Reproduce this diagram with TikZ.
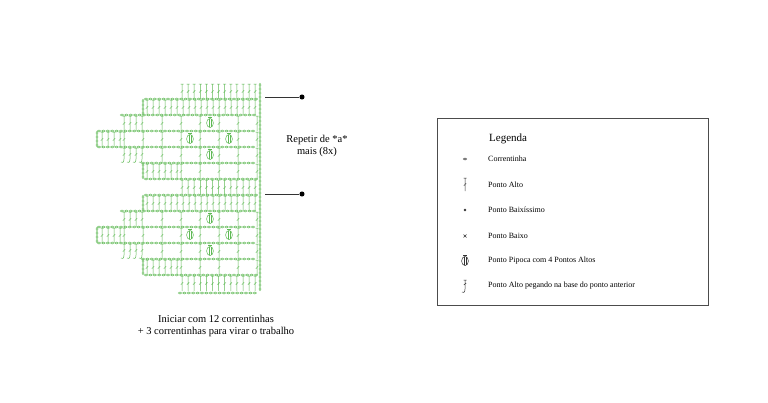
\documentclass[tikz,border=0pt]{standalone}
\usepackage{fontspec}
\setmainfont{Liberation Serif}
\begin{document}
\begin{tikzpicture}[x=1pt,y=-1pt,
  st/.style={draw={rgb,255:red,95;green,185;blue,85},line width=0.5pt},
  lg/.style={draw=black!80,line width=0.5pt},
  lbl/.style={anchor=west,font=\fontsize{8}{9}\selectfont,inner sep=0pt},
  txt/.style={font=\fontsize{10.5}{12}\selectfont,align=center,inner sep=0pt}]
\useasboundingbox (0,0) rectangle (768,402);
\newcommand\mydc[3]{\pgfmathsetmacro\qb{#2}\pgfmathsetmacro\qt{#3}\pgfmathsetmacro\qm{(\qb+\qt)/2}
 \draw[st] (#1,\qb)--(#1,\qt) (#1-1.5,\qt)--(#1+1.5,\qt) (#1-1.2,\qm+1)--(#1+1.2,\qm-1);}
\newcommand\myhk[3]{\pgfmathsetmacro\qb{#2}\pgfmathsetmacro\qt{#3}\pgfmathsetmacro\qm{(\qb+\qt)/2}\pgfmathsetmacro\qc{\qb-4}
 \draw[st] (#1,\qt)--(#1,\qc) .. controls (#1,\qb) and (#1-2,\qb) .. (#1-3,\qb-1) (#1-1.5,\qt)--(#1+1.5,\qt) (#1-1.2,\qm)--(#1+1.2,\qm-2);}
\newcommand\mych[2]{\draw[st] (#1,#2) ellipse (1.7 and 1);}
\newcommand\myvch[2]{\draw[st] (#1,#2) ellipse (1 and 1.7);}
\newcommand\chline[3]{\pgfmathsetmacro\qy{#3}\pgfmathsetmacro\qa{#1+4.4}\foreach \x in {#1,\qa,...,#2} {\mych{\x}{\qy}}}
\newcommand\vchain[3]{\pgfmathsetmacro\qs{#2}\pgfmathsetmacro\qn{#2+4}\pgfmathsetmacro\qe{#3}\foreach \y in {\qs,\qn,...,\qe} {\myvch{#1}{\y}}}
\newcommand\pop[2]{\pgfmathsetmacro\py{#2}\draw[st,fill=white] (#1,\py) ellipse (3.4 and 4.6); \draw[st] (#1-1.2,\py-4.3)--(#1-1.2,\py+4.3) (#1+1.2,\py-4.3)--(#1+1.2,\py+4.3) (#1-2,\py-5.3)--(#1+2,\py-5.3);}
\newcommand\block[1]{%
 \pgfmathsetmacro\La{99+#1}\pgfmathsetmacro\Lb{115+#1}\pgfmathsetmacro\Lc{131+#1}
 \pgfmathsetmacro\Ld{147+#1}\pgfmathsetmacro\Le{163+#1}\pgfmathsetmacro\Lf{179+#1}
 \foreach \x in {182,188.1,...,256} {\mydc{\x}{\La}{\La-15}}
 \vchain{260}{\La-14}{\Lf}
 \chline{146}{257}{\La}
 \vchain{143}{\La+2}{\Lb-2}
 \foreach \x in {147,153,...,255} {\mydc{\x}{\Lb}{\La+1}}
 \chline{122}{257}{\Lb}
 \foreach \x in {124,130,136,142} {\mydc{\x}{\Lc}{\Lb+1}}
 \foreach \x in {162,181,200,219,238,257} {\mydc{\x}{\Lc}{\Lb+1}}
 \pop{210}{\Lb+8}
 \chline{99}{257}{\Lc}
 \vchain{97}{\Lc+2}{\Ld-2}
 \foreach \x in {102,108,114,120,124,143,162,181,200,219,238,257} {\mydc{\x}{\Ld}{\Lc+1}}
 \pop{190}{\Lc+8}\pop{229}{\Lc+8}
 \chline{99}{257}{\Ld}
 \foreach \x in {124,130,136,142} {\myhk{\x}{\Le}{\Ld+1}}
 \foreach \x in {162,181,200,219,238,257} {\mydc{\x}{\Le}{\Ld+1}}
 \pop{210}{\Ld+8}
 \chline{143}{257}{\Le}
 \vchain{143}{\Le+2}{\Lf-2}
 \foreach \x in {147,153,...,177} {\mydc{\x}{\Lf}{\Le+1}}
 \foreach \x in {181,200,219,238,257} {\mydc{\x}{\Lf}{\Le+1}}
 \chline{146}{257}{\Lf}
}
\block{0}
\block{96}
\foreach \x in {182,188.1,...,256} {\mydc{\x}{291}{276}}
\vchain{260}{277}{291}
\chline{180}{257}{293}
% repeat markers
\coordinate (r1) at (265,97); \node[circle,fill=black,inner sep=1.8pt] (d1) at (302,97) {};
\coordinate (r2) at (265,194); \node[circle,fill=black,inner sep=1.8pt] (d2) at (302,194) {};
\draw[lg] (r1)--(d1); \draw[lg] (r2)--(d2);
\node[txt] (rep) at (317,146) {Repetir de *a*\\mais (8x)};
\node[txt] (ini) at (216,326) {Iniciar com 12 correntinhas\\+ 3 correntinhas para virar o trabalho};
% legend
\node[draw=black!70,line width=0.6pt,minimum width=271pt,minimum height=187pt,anchor=north west] (box) at (437,118) {};
\node[anchor=west,font=\fontsize{11}{12}\selectfont,inner sep=0pt] (leg) at (489,139) {Legenda};
\node[lbl] (t1) at (488,159) {Correntinha};
\node[lbl] (t2) at (488,185) {Ponto Alto};
\node[lbl] (t3) at (488,210) {Ponto Baixíssimo};
\node[lbl] (t4) at (488,236) {Ponto Baixo};
\node[lbl] (t5) at (488,261) {Ponto Pipoca com 4 Pontos Altos};
\node[lbl] (t6) at (488,286) {Ponto Alto pegando na base do ponto anterior};
\draw[lg] (465,159) ellipse (1.7 and 1);
\draw[lg] (465,191)--(465,178) (463.5,178)--(466.5,178) (463.8,185.5)--(466.2,183.5);
\fill[black!80] (465,210) circle (1.4);
\draw[lg] (463.5,234.5)--(466.5,237.5) (463.5,237.5)--(466.5,234.5);
\draw[lg,fill=white] (465,261) ellipse (3.4 and 4.6);
\draw[lg] (463.8,256.7)--(463.8,265.3) (466.2,256.7)--(466.2,265.3) (463,255.7)--(467,255.7);
\draw[lg] (465,280)--(465,289) .. controls (465,293) and (463,293) .. (462,292) (463.5,280)--(466.5,280) (463.8,285)--(466.2,283);
\end{tikzpicture}
\end{document}
